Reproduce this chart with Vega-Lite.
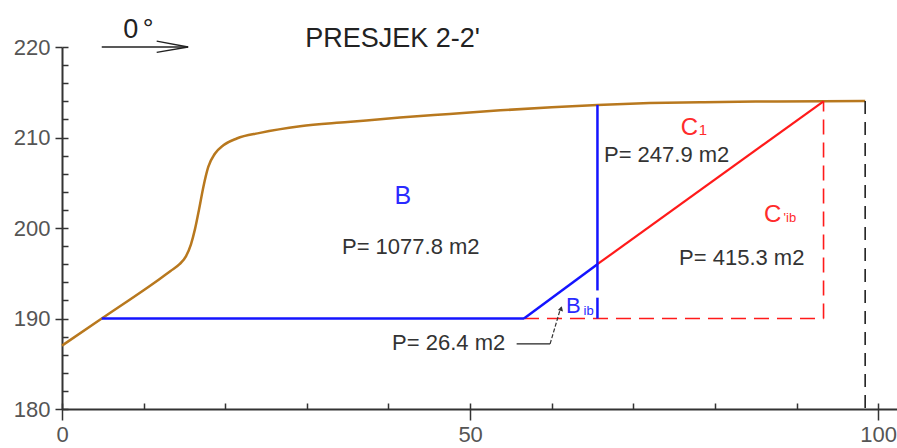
{
  "$schema": "https://vega.github.io/schema/vega-lite/v6.json",
  "width": 835,
  "height": 362,
  "autosize": "none",
  "padding": {"left": 62, "top": 47, "right": 0, "bottom": 39},
  "background": "white",
  "config": {"view": {"stroke": null}, "font": "Liberation Sans"},
  "resolve": {"axis": {"x": "independent", "y": "independent"}},
  "datasets": {
    "terrain": [
      {"x": 0, "y": 187.0}, {"x": 4.87, "y": 190.0}, {"x": 12.01, "y": 194.4},
      {"x": 13.3, "y": 195.25}, {"x": 14.4, "y": 196.0}, {"x": 15.2, "y": 196.9},
      {"x": 15.8, "y": 198.2}, {"x": 16.3, "y": 199.9}, {"x": 16.8, "y": 202.1}, {"x": 17.32, "y": 204.54},
      {"x": 17.92, "y": 206.75}, {"x": 18.75, "y": 208.23}, {"x": 19.77, "y": 209.15},
      {"x": 21.41, "y": 209.89}, {"x": 24.26, "y": 210.51}, {"x": 29.17, "y": 211.25},
      {"x": 35, "y": 211.7}, {"x": 41.4, "y": 212.2}, {"x": 47.5, "y": 212.6},
      {"x": 53.7, "y": 213.0}, {"x": 60, "y": 213.35}, {"x": 65.6, "y": 213.6},
      {"x": 72, "y": 213.8}, {"x": 78.2, "y": 213.9}, {"x": 85, "y": 213.97},
      {"x": 93.3, "y": 214.0}, {"x": 98.4, "y": 214.03}
    ],
    "segs": [
      {"k": "blue", "x": 4.87, "y": 190, "x2": 56.6, "y2": 190},
      {"k": "blue", "x": 56.6, "y": 190, "x2": 65.6, "y2": 196.0},
      {"k": "blue", "x": 65.6, "y": 213.6, "x2": 65.6, "y2": 193.1},
      {"k": "blue", "x": 65.6, "y": 192.3, "x2": 65.6, "y2": 190},
      {"k": "red", "x": 65.6, "y": 196.0, "x2": 93.3, "y2": 214.0},
      {"k": "reddash", "x": 56.6, "y": 190, "x2": 93.3, "y2": 190},
      {"k": "reddash", "x": 93.3, "y": 190, "x2": 93.3, "y2": 214.0},
      {"k": "blackdash", "x": 98.4, "y": 214.03, "x2": 98.4, "y2": 180},
      {"k": "leader", "x": 55.7, "y": 187.2, "x2": 59.8, "y2": 187.2},
      {"k": "leaderdash", "x": 59.8, "y": 187.2, "x2": 61.1, "y2": 191.2},
      {"k": "arrow", "x": 4.87, "y": 220, "x2": 15.45, "y2": 220},
      {"k": "arrow", "x": 11.6, "y": 220.65, "x2": 15.45, "y2": 220},
      {"k": "arrow", "x": 11.6, "y": 219.4, "x2": 15.45, "y2": 220}
    ],
    "heads": [{"x": 61.15, "y": 191.1}],
    "labels": [
      {"k": "p", "x": 34.3, "y": 197.17, "t": "P= 1077.8 m2"},
      {"k": "p", "x": 66.4, "y": 207.3, "t": "P= 247.9 m2"},
      {"k": "p", "x": 75.6, "y": 195.87, "t": "P= 415.3 m2"},
      {"k": "p", "x": 40.44, "y": 186.47, "t": "P= 26.4 m2"},
      {"k": "bbig", "x": 40.75, "y": 202.7, "t": "B"},
      {"k": "bmid", "x": 61.76, "y": 190.6, "t": "B"},
      {"k": "bsub", "x": 63.9, "y": 190.35, "t": "ib"},
      {"k": "cbig", "x": 75.8, "y": 210.33, "t": "C"},
      {"k": "csub", "x": 78.0, "y": 210.33, "t": "1"},
      {"k": "cbig", "x": 86.0, "y": 200.66, "t": "C"},
      {"k": "csub2", "x": 88.4, "y": 200.66, "t": "'ib"},
      {"k": "title", "x": 29.8, "y": 220.02, "t": "PRESJEK 2-2'"},
      {"k": "deg", "x": 7.5, "y": 220.95, "t": "0"},
      {"k": "deg", "x": 9.9, "y": 220.95, "t": "°"}
    ]
  },
  "layer": [
    {
      "data": {"name": "terrain"},
      "mark": {"type": "line", "color": "#b8781e", "strokeWidth": 2.5, "interpolate": "monotone"},
      "encoding": {
        "x": {"field": "x", "type": "quantitative", "scale": {"domain": [0, 102.3], "nice": false, "zero": false},
          "axis": {"orient": "bottom", "values": [0, 50, 100], "title": null, "grid": false, "tickSize": 11, "tickWidth": 1.5, "tickColor": "#333",
            "domainColor": "#333", "domainWidth": 2, "labelFont": "Liberation Sans", "labelFontSize": 22, "labelColor": "#555",
            "labelPadding": 4, "labelFlush": false, "labelOverlap": false}},
        "y": {"field": "y", "type": "quantitative", "scale": {"domain": [180, 220], "nice": false, "zero": false},
          "axis": {"orient": "left", "values": [180, 190, 200, 210, 220], "title": null, "grid": false, "tickSize": 7, "tickWidth": 1.5, "tickColor": "#333",
            "domainColor": "#333", "domainWidth": 2, "labelFont": "Liberation Sans", "labelFontSize": 22, "labelColor": "#555",
            "labelPadding": 5, "labelFlush": false, "labelOverlap": false}}
      }
    },
    {
      "data": {"name": "segs"},
      "transform": [{"filter": "datum.k === 'reddash'"}],
      "mark": {"type": "rule", "color": "#ff1a1a", "strokeWidth": 1.6, "strokeDash": [15, 8]},
      "encoding": {
        "x": {"field": "x", "type": "quantitative", "scale": {"domain": [0, 102.3], "nice": false, "zero": false},
          "axis": {"orient": "bottom", "values": [0, 10, 20, 30, 40, 50, 60, 70, 80, 90, 100], "title": null, "grid": false, "labels": false, "domain": false,
            "tickSize": -6, "tickWidth": 1.5, "tickColor": "#333"}},
        "y": {"field": "y", "type": "quantitative", "scale": {"domain": [180, 220], "nice": false, "zero": false},
          "axis": {"orient": "left", "values": [180, 182, 184, 186, 188, 190, 192, 194, 196, 198, 200, 202, 204, 206, 208, 210, 212, 214, 216, 218, 220],
            "title": null, "grid": false, "labels": false, "domain": false, "tickSize": -6, "tickWidth": 1.5, "tickColor": "#333"}},
        "x2": {"field": "x2"},
        "y2": {"field": "y2"}
      }
    },
    {
      "data": {"name": "segs"},
      "transform": [{"filter": "datum.k === 'blackdash'"}],
      "mark": {"type": "rule", "color": "#222", "strokeWidth": 1.6, "strokeDash": [13, 8]},
      "encoding": {
        "x": {"field": "x", "type": "quantitative", "scale": {"domain": [0, 102.3], "nice": false, "zero": false}, "axis": null},
        "y": {"field": "y", "type": "quantitative", "scale": {"domain": [180, 220], "nice": false, "zero": false}, "axis": null},
        "x2": {"field": "x2"}, "y2": {"field": "y2"}
      }
    },
    {
      "data": {"name": "segs"},
      "transform": [{"filter": "datum.k === 'red'"}],
      "mark": {"type": "rule", "color": "#ff1a1a", "strokeWidth": 2.2},
      "encoding": {
        "x": {"field": "x", "type": "quantitative", "scale": {"domain": [0, 102.3], "nice": false, "zero": false}, "axis": null},
        "y": {"field": "y", "type": "quantitative", "scale": {"domain": [180, 220], "nice": false, "zero": false}, "axis": null},
        "x2": {"field": "x2"}, "y2": {"field": "y2"}
      }
    },
    {
      "data": {"name": "segs"},
      "transform": [{"filter": "datum.k === 'blue'"}],
      "mark": {"type": "rule", "color": "#1414ff", "strokeWidth": 2.5},
      "encoding": {
        "x": {"field": "x", "type": "quantitative", "scale": {"domain": [0, 102.3], "nice": false, "zero": false}, "axis": null},
        "y": {"field": "y", "type": "quantitative", "scale": {"domain": [180, 220], "nice": false, "zero": false}, "axis": null},
        "x2": {"field": "x2"}, "y2": {"field": "y2"}
      }
    },
    {
      "data": {"name": "segs"},
      "transform": [{"filter": "datum.k === 'leader' || datum.k === 'arrow'"}],
      "mark": {"type": "rule", "color": "#222", "strokeWidth": 1.3},
      "encoding": {
        "x": {"field": "x", "type": "quantitative", "scale": {"domain": [0, 102.3], "nice": false, "zero": false}, "axis": null},
        "y": {"field": "y", "type": "quantitative", "scale": {"domain": [180, 220], "nice": false, "zero": false}, "axis": null},
        "x2": {"field": "x2"}, "y2": {"field": "y2"}
      }
    },
    {
      "data": {"name": "segs"},
      "transform": [{"filter": "datum.k === 'leaderdash'"}],
      "mark": {"type": "rule", "color": "#333", "strokeWidth": 1.2, "strokeDash": [4, 2]},
      "encoding": {
        "x": {"field": "x", "type": "quantitative", "scale": {"domain": [0, 102.3], "nice": false, "zero": false}, "axis": null},
        "y": {"field": "y", "type": "quantitative", "scale": {"domain": [180, 220], "nice": false, "zero": false}, "axis": null},
        "x2": {"field": "x2"}, "y2": {"field": "y2"}
      }
    },
    {
      "data": {"name": "heads"},
      "mark": {"type": "point", "shape": "triangle-up", "filled": true, "color": "#333", "opacity": 1, "size": 28, "angle": 17},
      "encoding": {
        "x": {"field": "x", "type": "quantitative", "scale": {"domain": [0, 102.3], "nice": false, "zero": false}, "axis": null},
        "y": {"field": "y", "type": "quantitative", "scale": {"domain": [180, 220], "nice": false, "zero": false}, "axis": null}
      }
    },
    {
      "data": {"name": "labels"},
      "transform": [{"filter": "datum.k === 'p'"}],
      "mark": {"type": "text", "align": "left", "baseline": "alphabetic", "fontSize": 22, "color": "#333", "font": "Liberation Sans"},
      "encoding": {
        "x": {"field": "x", "type": "quantitative", "scale": {"domain": [0, 102.3], "nice": false, "zero": false}, "axis": null},
        "y": {"field": "y", "type": "quantitative", "scale": {"domain": [180, 220], "nice": false, "zero": false}, "axis": null},
        "text": {"field": "t"}
      }
    },
    {
      "data": {"name": "labels"},
      "transform": [{"filter": "datum.k === 'bbig'"}],
      "mark": {"type": "text", "align": "left", "baseline": "alphabetic", "fontSize": 25, "color": "#2a2aff", "font": "Liberation Sans"},
      "encoding": {
        "x": {"field": "x", "type": "quantitative", "scale": {"domain": [0, 102.3], "nice": false, "zero": false}, "axis": null},
        "y": {"field": "y", "type": "quantitative", "scale": {"domain": [180, 220], "nice": false, "zero": false}, "axis": null},
        "text": {"field": "t"}
      }
    },
    {
      "data": {"name": "labels"},
      "transform": [{"filter": "datum.k === 'bmid'"}],
      "mark": {"type": "text", "align": "left", "baseline": "alphabetic", "fontSize": 22, "color": "#2a2aff", "font": "Liberation Sans"},
      "encoding": {
        "x": {"field": "x", "type": "quantitative", "scale": {"domain": [0, 102.3], "nice": false, "zero": false}, "axis": null},
        "y": {"field": "y", "type": "quantitative", "scale": {"domain": [180, 220], "nice": false, "zero": false}, "axis": null},
        "text": {"field": "t"}
      }
    },
    {
      "data": {"name": "labels"},
      "transform": [{"filter": "datum.k === 'bsub'"}],
      "mark": {"type": "text", "align": "left", "baseline": "alphabetic", "fontSize": 13, "color": "#2a2aff", "font": "Liberation Sans"},
      "encoding": {
        "x": {"field": "x", "type": "quantitative", "scale": {"domain": [0, 102.3], "nice": false, "zero": false}, "axis": null},
        "y": {"field": "y", "type": "quantitative", "scale": {"domain": [180, 220], "nice": false, "zero": false}, "axis": null},
        "text": {"field": "t"}
      }
    },
    {
      "data": {"name": "labels"},
      "transform": [{"filter": "datum.k === 'cbig'"}],
      "mark": {"type": "text", "align": "left", "baseline": "alphabetic", "fontSize": 24, "color": "#ff2b2b", "font": "Liberation Sans"},
      "encoding": {
        "x": {"field": "x", "type": "quantitative", "scale": {"domain": [0, 102.3], "nice": false, "zero": false}, "axis": null},
        "y": {"field": "y", "type": "quantitative", "scale": {"domain": [180, 220], "nice": false, "zero": false}, "axis": null},
        "text": {"field": "t"}
      }
    },
    {
      "data": {"name": "labels"},
      "transform": [{"filter": "datum.k === 'csub'"}],
      "mark": {"type": "text", "align": "left", "baseline": "alphabetic", "fontSize": 15, "color": "#ff2b2b", "font": "Liberation Sans"},
      "encoding": {
        "x": {"field": "x", "type": "quantitative", "scale": {"domain": [0, 102.3], "nice": false, "zero": false}, "axis": null},
        "y": {"field": "y", "type": "quantitative", "scale": {"domain": [180, 220], "nice": false, "zero": false}, "axis": null},
        "text": {"field": "t"}
      }
    },
    {
      "data": {"name": "labels"},
      "transform": [{"filter": "datum.k === 'csub2'"}],
      "mark": {"type": "text", "align": "left", "baseline": "alphabetic", "fontSize": 13, "color": "#ff2b2b", "font": "Liberation Sans"},
      "encoding": {
        "x": {"field": "x", "type": "quantitative", "scale": {"domain": [0, 102.3], "nice": false, "zero": false}, "axis": null},
        "y": {"field": "y", "type": "quantitative", "scale": {"domain": [180, 220], "nice": false, "zero": false}, "axis": null},
        "text": {"field": "t"}
      }
    },
    {
      "data": {"name": "labels"},
      "transform": [{"filter": "datum.k === 'title' || datum.k === 'deg'"}],
      "mark": {"type": "text", "align": "left", "baseline": "alphabetic", "fontSize": 27, "color": "#222", "font": "Liberation Sans"},
      "encoding": {
        "x": {"field": "x", "type": "quantitative", "scale": {"domain": [0, 102.3], "nice": false, "zero": false}, "axis": null},
        "y": {"field": "y", "type": "quantitative", "scale": {"domain": [180, 220], "nice": false, "zero": false}, "axis": null},
        "text": {"field": "t"}
      }
    }
  ]
}
